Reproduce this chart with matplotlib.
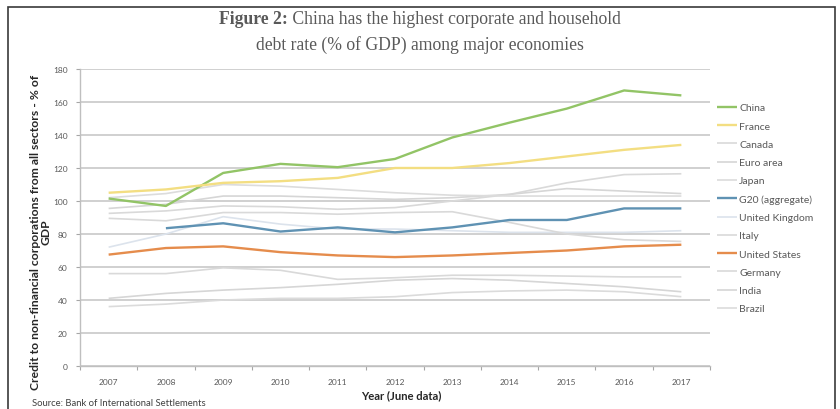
import numpy as np
import matplotlib
matplotlib.use('Agg')
import matplotlib.pyplot as plt

# data (% of GDP, June of each year)
years = ['2007', '2008', '2009', '2010', '2011', '2012', '2013', '2014', '2015', '2016', '2017']

china = [101.5, 97, 117, 122.5, 120.5, 125.5, 138.5, 147.5, 156, 167, 164]
france = [105, 107, 111, 112, 114, 120, 120, 123, 127, 131, 134]
canada = [92.5, 94, 97, 96.5, 95, 96, 100, 104, 111, 116, 116.5]
euro_area = [95.5, 98, 103, 103, 102, 101, 102, 104, 107.5, 106, 104.5]
japan = [102, 104.5, 110, 109, 107, 105, 103.5, 103, 103, 103, 103]
g20 = [np.nan, 83.5, 86.5, 81.5, 84, 81, 84, 88.5, 88.5, 95.5, 95.5]
uk = [72, 80, 90.5, 86, 83, 83, 82, 81, 81, 81, 82]
italy = [89.5, 88, 93, 93, 92, 93, 93.5, 87, 80, 76.5, 75.5]
us = [67.5, 71.5, 72.5, 69, 67, 66, 67, 68.5, 70, 72.5, 73.5]
germany = [56, 56, 59.5, 58, 52.5, 53.5, 55, 55, 54.5, 54, 54]
india = [41, 44, 46, 47.5, 49.5, 52, 53, 52, 50, 48, 45]
brazil = [36, 37.5, 40, 41, 41, 42, 44.5, 45.5, 46, 45, 42]

legend_order = ['China', 'France', 'Canada', 'Euro area', 'Japan', 'G20 (aggregate)',
                'United Kingdom', 'Italy', 'United States', 'Germany', 'India', 'Brazil']

series = {
    'China': (china, '#92C466', 1.7),
    'France': (france, '#F3DE82', 1.7),
    'Canada': (canada, '#D9D9D9', 1.2),
    'Euro area': (euro_area, '#D6D6D6', 1.2),
    'Japan': (japan, '#DCDCDC', 1.2),
    'G20 (aggregate)': (g20, '#5F92B3', 1.7),
    'United Kingdom': (uk, '#DCE3EC', 1.2),
    'Italy': (italy, '#D9D9D9', 1.2),
    'United States': (us, '#E58C4C', 1.7),
    'Germany': (germany, '#D9D9D9', 1.2),
    'India': (india, '#D6D6D6', 1.2),
    'Brazil': (brazil, '#DBDBDB', 1.2),
}
highlighted = ['China', 'France', 'G20 (aggregate)', 'United States']

txt = '#595959'

fig = plt.figure(figsize=(8.4, 4.1), dpi=100)
ax = fig.add_axes([80/840, 1 - 367/410, 630/840, 297/410])

x = np.arange(len(years))
lines = {}
for name in legend_order:
    vals, col, lw = series[name]
    z = 3 if name in highlighted else 2
    ln, = ax.plot(x, vals, color=col, linewidth=lw, label=name, zorder=z,
                  solid_capstyle='butt')
    lines[name] = ln

ax.set_xlim(-0.5, len(years) - 0.5)
ax.set_ylim(0, 180)
ax.set_yticks(np.arange(0, 181, 20))
ax.set_xticks(x)
ax.set_xticklabels(years)
ax.set_xticks(np.arange(-0.5, len(years), 1), minor=True)
ax.tick_params(axis='x', which='major', length=0, pad=9, labelsize=6, labelcolor=txt)
ax.tick_params(axis='x', which='minor', length=3, color='#A6A6A6', width=0.8)
ax.tick_params(axis='y', length=3, color='#A6A6A6', width=0.8, labelsize=6,
               labelcolor=txt, pad=6)
for lab in ax.get_xticklabels() + ax.get_yticklabels():
    lab.set_family('Lato')

ax.grid(axis='y', color='#C4C4C4', linewidth=1.1)
ax.set_axisbelow(True)
for side in ['top', 'right']:
    ax.spines[side].set_visible(False)
ax.spines['left'].set_color('#BFBFBF')
ax.spines['bottom'].set_color('#BFBFBF')
ax.spines['left'].set_linewidth(1.0)
ax.spines['bottom'].set_linewidth(1.0)

leg = ax.legend([lines[n] for n in legend_order], legend_order,
                loc='upper left', bbox_to_anchor=(713/840, 1 - 100/410),
                bbox_transform=fig.transFigure, frameon=False,
                prop={'family': 'Lato', 'size': 7.5}, labelcolor=txt,
                handlelength=1.9, handletextpad=0.2, labelspacing=0.86,
                borderaxespad=0)

# axis titles
fig.text(41/840, 1 - 232/410,
         'Credit to non-financial corporations from all sectors - % of\nGDP',
         rotation=90, ha='center', va='center', fontsize=8.7, fontweight='bold',
         family='Lato', color='#262626', linespacing=0.95)
fig.text(401/840, 1 - 396/410, 'Year (June data)', ha='center', va='center',
         fontsize=8.1, fontweight='bold', family='Lato', color='#262626')
fig.text(32/840, 1 - 404/410, 'Source: Bank of International Settlements',
         ha='left', va='center', fontsize=6.8, family='Lato', color='#404040')

# title with bold prefix
renderer = fig.canvas.get_renderer()
tfont = dict(family='Liberation Serif', fontsize=12.7, color=txt)
t1 = fig.text(0, 1 - 20/410, 'Figure 2:', fontweight='bold', va='center', ha='left', **tfont)
t2 = fig.text(0, 1 - 20/410, ' China has the highest corporate and household',
              va='center', ha='left', **tfont)
w1 = t1.get_window_extent(renderer).width
w2 = t2.get_window_extent(renderer).width
start = (840 - (w1 + w2)) / 2
t1.set_x(start / 840)
t2.set_x((start + w1) / 840)
fig.text(0.5, 1 - 45/410, 'debt rate (% of GDP) among major economies',
         ha='center', va='center', **tfont)

# outer frame
fig.patches.append(plt.Rectangle((8/840, -0.05), 827/840, 1.05 - 8/410,
                                 transform=fig.transFigure, fill=False,
                                 edgecolor='#3A3A3A', linewidth=1.2))

fig.savefig('out.png', dpi=100)
